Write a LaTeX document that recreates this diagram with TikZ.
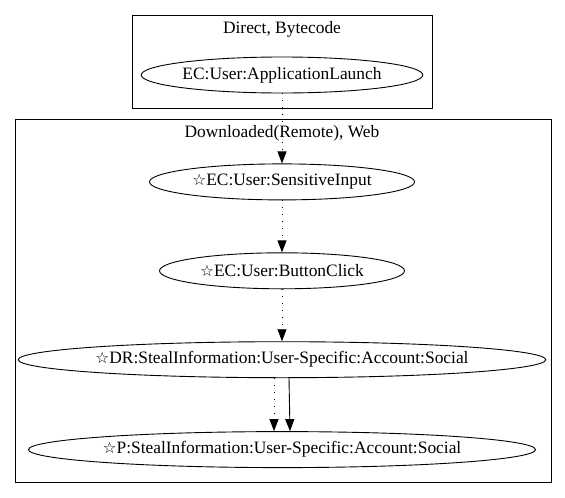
\documentclass[tikz,border=0pt]{standalone}
\usepackage{fontspec}
\setmainfont{Liberation Serif}
\newfontfamily\starfont{DejaVu Sans}
\usetikzlibrary{positioning,arrows.meta,shapes.geometric}
\newcommand{\sym}{{\starfont\fontsize{15.5}{15.5}\selectfont ☆}}

\begin{document}
\begin{tikzpicture} [x=1pt,y=-1pt,node distance=52pt,font=\fontsize{17.4}{19}\selectfont,line width=0.9pt]
    \useasboundingbox (0,0) rectangle (565,498);
    \tikzset{state/.style={draw,ellipse,minimum height=36pt,inner sep=0pt},
             tip/.style={-{Triangle[length=12pt,width=9pt]}},
             dotline/.style={dash pattern=on 1pt off 6pt}}

    % clusters
    \draw (132,15) rectangle (432,108);
    \node (direct) at (282,29) {Direct, Bytecode};
    \draw (15,119) rectangle (551,482);
    \node (web) at (282,133) {Downloaded(Remote), Web};

    \node[state,minimum width=281pt] (launch) at (282,75) {EC:User:ApplicationLaunch};
    \node[state,minimum width=265pt,below=70pt of launch] (input) {\sym EC:User:SensitiveInput};
    \node[state,minimum width=245pt,below=of input] (click) {\sym EC:User:ButtonClick};
    \node[state,minimum width=518pt,below=of click] (steal) {\sym DR:StealInformation:User-Specific:Account:Social};
    \node[state,minimum width=499pt,below=53pt of steal] (social) {\sym P:StealInformation:User-Specific:Account:Social};

    \path (launch) edge [tip,dotline] (input);
    \path (input) edge [tip,dotline] (click);
    \path (click) edge [tip,dotline] (steal);
    \path ([xshift=-8pt]steal.south) edge [tip,dotline] ([xshift=-8pt]social.north);
    \path ([xshift=7pt]steal.south) edge [tip] ([xshift=8pt]social.north);
\end{tikzpicture}
\end{document}
